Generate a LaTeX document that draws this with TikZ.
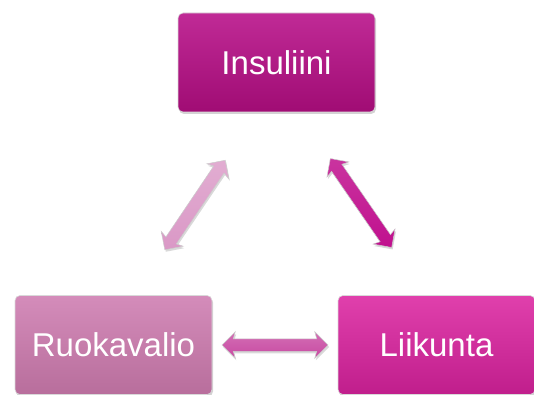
\documentclass[tikz,border=0pt]{standalone}
\usepackage{fontspec}
\setmainfont{Liberation Sans}
\usetikzlibrary{shapes.arrows,shadows}
\definecolor{insA}{HTML}{C02A96}
\definecolor{insB}{HTML}{A00C74}
\definecolor{ruoA}{HTML}{D48CBA}
\definecolor{ruoB}{HTML}{B86E9C}
\definecolor{liiA}{HTML}{E040AC}
\definecolor{liiB}{HTML}{C01E8C}
\definecolor{arL}{HTML}{DA98C6}
\definecolor{arR}{HTML}{C0108E}
\definecolor{arB}{HTML}{C84AA2}
\tikzset{
  box/.style={rounded corners=5pt, minimum width=197pt, minimum height=99pt,
    font=\fontsize{33}{36}\selectfont, text=white, draw=white!70!gray, line width=0.6pt,
    drop shadow={shadow xshift=1pt,shadow yshift=-2pt,opacity=0.35}},
  dbl/.style={double arrow, double arrow head extend=7pt, double arrow head indent=2pt,
    minimum height=108pt, inner xsep=0pt, inner ysep=6pt, draw=white!60!gray, line width=0.5pt,
    drop shadow={shadow xshift=1pt,shadow yshift=-2pt,opacity=0.3}}
}
\begin{document}
\begin{tikzpicture}[x=1pt,y=1pt]
\useasboundingbox (0,0) rectangle (534,394);
\clip (0,0) rectangle (534,394);
\node[box, top color=insA, bottom color=insB] (ins) at (276.5,331.5) {Insuliini};
\node[box, top color=ruoA, bottom color=ruoB] (ruo) at (113.5,49) {Ruokavalio};
\node[box, top color=liiA, bottom color=liiB] (lii) at (436.5,49) {Liikunta};
\node[dbl, rotate=56, top color=arL!80!white, bottom color=arL] (aL) at (195,189) {};
\node[dbl, rotate=-55.4, top color=arR!85!white, bottom color=arR] (aR) at (361,191) {};
\node[dbl, minimum height=106pt, top color=arB!80!white, bottom color=arB] (aB) at (275,49) {};
\end{tikzpicture}
\end{document}
